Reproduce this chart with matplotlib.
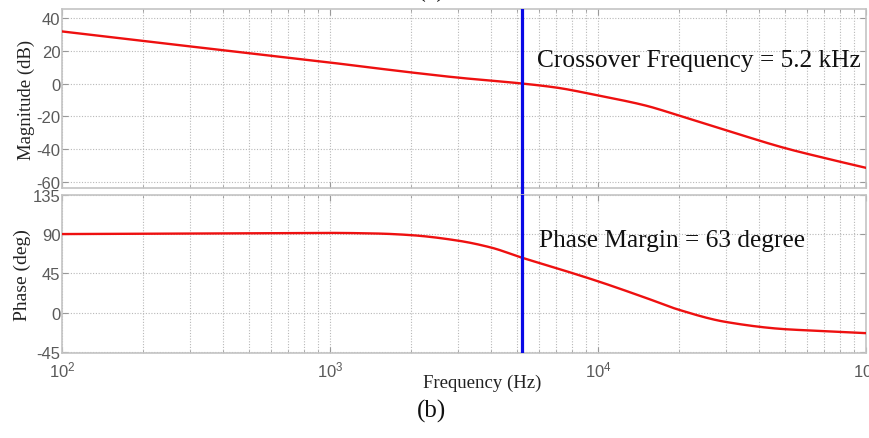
import numpy as np
import matplotlib
matplotlib.use("Agg")
import matplotlib.pyplot as plt
from matplotlib.ticker import LogLocator, FixedLocator, NullFormatter, FuncFormatter

# Open-loop Bode response of the compensated loop
freq_hz = [100, 200, 500, 1000, 2000, 3000, 5200, 7000, 10000, 15000,
           20000, 30000, 50000, 70000, 100000]
magnitude_db = [31.8, 26.0, 18.5, 12.8, 6.8, 3.6, 0.0, -2.5, -7.3, -13.4,
                -19.5, -28.5, -39.5, -45.5, -51.5]
phase_freq_hz = [100, 200, 500, 773, 1000, 1500, 2000, 3000, 4000, 5200,
                 7000, 10000, 15000, 20000, 30000, 50000, 70000, 100000]
phase_deg = [90.0, 90.3, 90.9, 91.2, 91.3, 90.6, 88.8, 82.5, 74.5, 63.0,
             51.0, 36.0, 17.3, 3.5, -10.5, -18.8, -20.9, -23.3]

crossover_hz = 5200
phase_margin_deg = 63
mag_ticks = [-60, -40, -20, 0, 20, 40]
phase_ticks = [-45, 0, 45, 90, 135]

serif = ["Liberation Serif", "DejaVu Serif"]
sans = ["Liberation Sans", "DejaVu Sans"]
plt.rcParams["mathtext.default"] = "regular"
plt.rcParams["font.family"] = sans
plt.rcParams["axes.unicode_minus"] = False

W, H = 869, 439
fig = plt.figure(figsize=(W / 100, H / 100), dpi=100)
fig.patch.set_facecolor("white")


def px_rect(left, top, right, bottom):
    return [left / W, 1 - bottom / H, (right - left) / W, (bottom - top) / H]


ax_mag = fig.add_axes(px_rect(62, 10, 866, 189.3))
ax_ph = fig.add_axes(px_rect(62, 195.7, 866, 354))


def pchip(x, y, xs):
    """Shape-preserving piecewise cubic interpolation."""
    x = np.asarray(x, float)
    y = np.asarray(y, float)
    h = np.diff(x)
    d = np.diff(y) / h
    m = np.zeros_like(y)
    for i in range(1, len(x) - 1):
        if d[i - 1] * d[i] > 0:
            w1 = 2 * h[i] + h[i - 1]
            w2 = h[i] + 2 * h[i - 1]
            m[i] = (w1 + w2) / (w1 / d[i - 1] + w2 / d[i])
    m[0] = d[0]
    m[-1] = d[-1]
    idx = np.clip(np.searchsorted(x, xs) - 1, 0, len(x) - 2)
    t = (xs - x[idx]) / h[idx]
    h00 = 2 * t**3 - 3 * t**2 + 1
    h10 = t**3 - 2 * t**2 + t
    h01 = -2 * t**3 + 3 * t**2
    h11 = t**3 - t**2
    return h00 * y[idx] + h10 * h[idx] * m[idx] + h01 * y[idx + 1] + h11 * h[idx] * m[idx + 1]


def curve(fx, fy, n=600):
    lx = np.log10(fx)
    xs = np.linspace(lx[0], lx[-1], n)
    return 10 ** xs, pchip(lx, fy, xs)


grid_col = "#b8b8b8"
frame_col = "#c4c4c4"
tick_col = "#5a5a5a"
blue = "#0a0ae6"

for ax in (ax_mag, ax_ph):
    ax.set_xscale("log")
    ax.set_xlim(100, 100000)
    ax.xaxis.set_major_locator(LogLocator(base=10, numticks=10))
    ax.xaxis.set_minor_locator(LogLocator(base=10, subs=np.arange(2, 10), numticks=10))
    ax.xaxis.set_minor_formatter(NullFormatter())
    ax.grid(True, which="major", axis="both", color=grid_col, linestyle=(0, (1, 1.5)), linewidth=0.8)
    ax.grid(True, which="minor", axis="x", color=grid_col, linestyle=(0, (1, 1.5)), linewidth=0.8)
    for s in ax.spines.values():
        s.set_color(frame_col)
        s.set_linewidth(1.2)
    ax.tick_params(which="both", direction="in", color="#999999", labelcolor=tick_col,
                   labelsize=12, top=True, right=True)
    ax.tick_params(which="major", length=4)
    ax.tick_params(which="minor", length=2)
    ax.tick_params(axis="y", pad=1)
    ax.axvline(crossover_hz, color=blue, linewidth=2.3, zorder=4)

fx, fy = curve(freq_hz, magnitude_db)
ax_mag.plot(fx, fy, color="#ee1010", linewidth=1.7, zorder=3)
px, py = curve(phase_freq_hz, phase_deg)
ax_ph.plot(px, py, color="#ee1010", linewidth=1.7, zorder=3)

ax_mag.set_ylim(-64, 45.5)
ax_mag.yaxis.set_major_locator(FixedLocator(mag_ticks))
ax_mag.tick_params(axis="x", labelbottom=False)
ax_ph.set_ylim(-46, 135)
ax_ph.yaxis.set_major_locator(FixedLocator(phase_ticks))
ax_ph.xaxis.set_major_formatter(FuncFormatter(lambda v, p: r"$10^{%d}$" % round(np.log10(v))))
ax_ph.tick_params(axis="x", pad=5)

# bridge the crossover marker across the gap between panels
ax_mag.axvline(crossover_hz, ymin=-0.06, ymax=0, color=blue, linewidth=2.3, clip_on=False, zorder=4)

ax_mag.set_ylabel("Magnitude (dB)", family=serif, fontsize=13.5, color="#222222", labelpad=1)
ax_ph.set_ylabel("Phase (deg)", family=serif, fontsize=14, color="#222222", labelpad=1)

fig.text(482 / W, 1 - 383 / H, "Frequency (Hz)", family=serif, fontsize=13.5,
         color="#222222", ha="center", va="center")
fig.text(432 / W, 1 - 411 / H, "(b)", family=serif, fontsize=18,
         color="#111111", ha="center", va="center")
fig.text(431 / W, 1 + 3 / H, "(a)", family=serif, fontsize=17,
         color="#111111", ha="center", va="baseline")

ax_mag.text(537 / W, 1 - 66.7 / H, "Crossover Frequency = %.1f kHz" % (crossover_hz / 1000),
            transform=fig.transFigure, family=serif, fontsize=18.3, color="#111111",
            ha="left", va="baseline")
ax_ph.text(539 / W, 1 - 247 / H, "Phase Margin = %d degree" % phase_margin_deg,
           transform=fig.transFigure, family=serif, fontsize=18.3, color="#111111",
           ha="left", va="baseline")

fig.savefig("out.png", dpi=100, facecolor="white")
